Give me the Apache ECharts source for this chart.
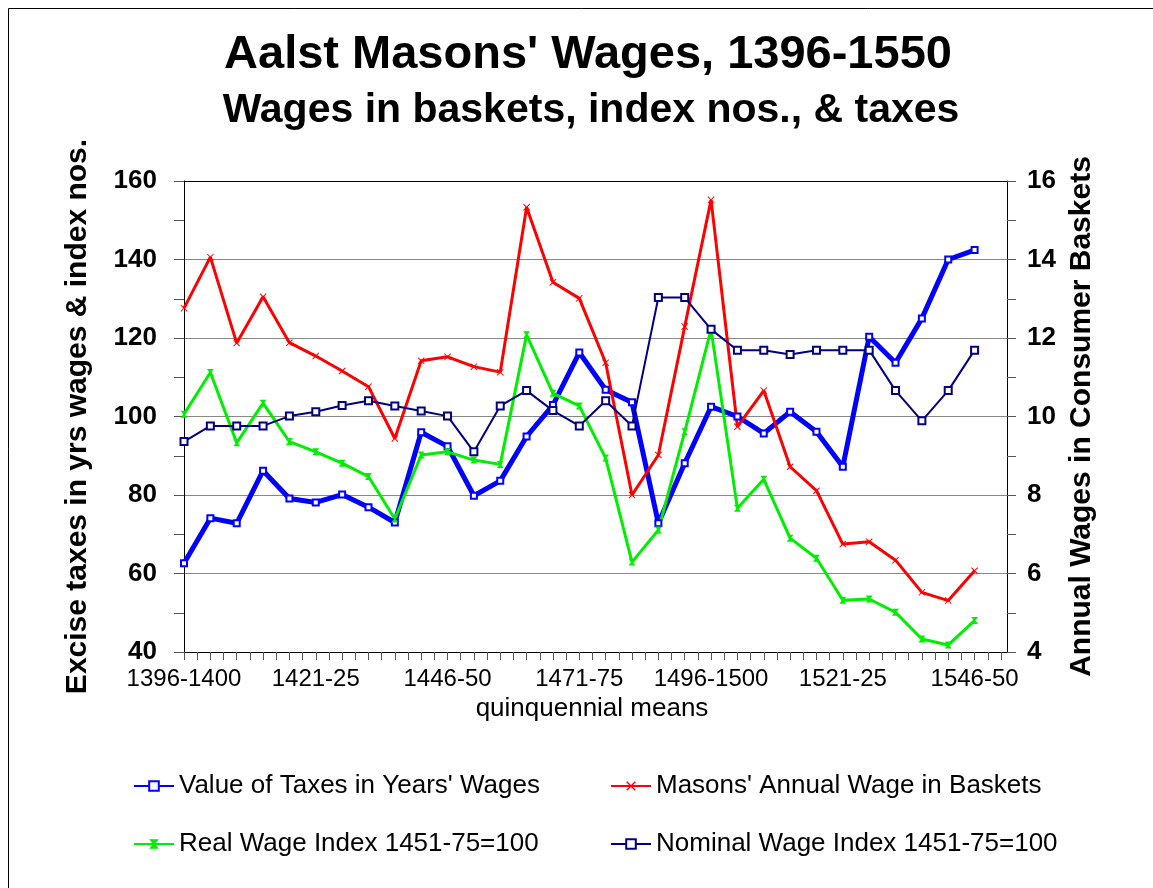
<!DOCTYPE html>
<html>
<head>
<meta charset="utf-8">
<title>Aalst Masons' Wages</title>
<script src="https://cdn.jsdelivr.net/npm/echarts@6/dist/echarts.min.js"></script>
<style>
  html, body { margin: 0; padding: 0; background: #fff; }
  #main { width: 1153px; height: 888px; }
</style>
</head>
<body>
<div id="main"></div>
<script>
// quinquennial periods
var categories = ['1396-1400', '1401-05', '1406-10', '1411-15', '1416-20', '1421-25', '1426-30', '1431-35',
  '1436-40', '1441-45', '1446-50', '1451-55', '1456-60', '1461-65', '1466-70', '1471-75', '1476-80',
  '1481-85', '1486-90', '1491-95', '1496-1500', '1501-05', '1506-10', '1511-15', '1516-20', '1521-25',
  '1526-30', '1531-35', '1536-40', '1541-45', '1546-50'];

// left axis
var taxValues = [62.6, 74.1, 72.8, 86.2, 79.1, 78.1, 80.1, 76.9, 73.0, 96.0, 92.4, 79.8, 83.6, 94.9, 102.9,
  116.3, 106.8, 103.6, 72.8, 88.1, 102.5, 100.0, 95.7, 101.2, 96.1, 87.2, 120.3, 113.7, 125.0, 140.0, 142.4];
var realWage = [100.6, 111.2, 93.3, 103.4, 93.6, 91.0, 88.1, 84.7, 73.9, 90.2, 91.0, 88.9, 87.8, 120.8, 105.9,
  102.7, 89.4, 62.9, 71.1, 96.1, 122.2, 76.6, 84.0, 69.0, 63.9, 53.2, 53.5, 50.1, 43.3, 41.8, 48.0];
var nominalWage = [93.6, 97.6, 97.6, 97.6, 100.1, 101.2, 102.8, 104.0, 102.7, 101.4, 100.1, 91.0, 102.7, 106.6,
  101.5, 97.6, 104.0, 97.6, 130.3, 130.3, 122.2, 116.9, 116.9, 115.8, 116.9, 116.9, 116.9, 106.6, 98.9, 106.6, 116.9];
// right axis
var basketWage = [12.76, 14.06, 11.87, 13.05, 11.88, 11.54, 11.16, 10.76, 9.44, 11.42, 11.52, 11.27, 11.13,
  15.33, 13.42, 13.01, 11.37, 8.0, 9.02, 12.29, 15.52, 9.74, 10.66, 8.72, 8.11, 6.75, 6.81, 6.34, 5.52, 5.31, 6.07];

var labelEvery = 5;

function pairs(arr) {
  return arr.map(function (v, i) { return [i, v]; });
}

var tickVals = [];
for (var t = 0; t <= categories.length; t += 0.5) tickVals.push(t);
var labelVals = [];
for (var l = 0; l < categories.length; l += labelEvery) labelVals.push(l);

var font = 'Liberation Sans, Arial, sans-serif';
var xMark = 'path://M0,1L1,0L5,4L9,0L10,1L6,5L10,9L9,10L5,6L1,10L0,9L4,5Z';
var hourglass = 'path://M0,0L10,0L6,5L10,10L0,10L4,5Z';

var chart = echarts.init(document.getElementById('main'));

var option = {
  backgroundColor: '#fff',
  animation: false,
  textStyle: { fontFamily: font },
  title: [
    { text: "Aalst Masons' Wages, 1396-1550", left: 583, top: 27, textAlign: 'center',
      textStyle: { fontSize: 47, fontWeight: 'bold', color: '#000', fontFamily: font } },
    { text: 'Wages in baskets, index nos., & taxes', left: 586, top: 85, textAlign: 'center',
      textStyle: { fontSize: 41, fontWeight: 'bold', color: '#000', fontFamily: font } }
  ],
  graphic: [{
    type: 'rect', shape: { x: 8.5, y: 8.5, width: 1160, height: 900 },
    style: { fill: null, stroke: '#000', lineWidth: 1 }, silent: true
  }],
  legend: [
    { data: ["Value of Taxes in Years' Wages", 'Real Wage Index 1451-75=100'],
      orient: 'vertical', left: 128, top: 768, itemWidth: 40, itemHeight: 12, itemGap: 32,
      textStyle: { fontSize: 26, color: '#000', fontFamily: font } },
    { data: ["Masons' Annual Wage in Baskets", 'Nominal Wage Index 1451-75=100'],
      orient: 'vertical', left: 605, top: 768, itemWidth: 40, itemHeight: 12, itemGap: 32,
      textStyle: { fontSize: 26, color: '#000', fontFamily: font } }
  ],
  grid: { left: 177, right: 146, top: 181, bottom: 236, containLabel: false },
  xAxis: {
    type: 'value',
    min: -0.266,
    max: 31.23,
    name: 'quinquennial means',
    nameLocation: 'middle',
    nameGap: 43,
    nameTextStyle: { fontSize: 26, color: '#000', fontFamily: font },
    axisLine: { show: true, onZero: false, lineStyle: { color: '#000', width: 1 } },
    axisTick: { show: true, customValues: tickVals, length: 8, lineStyle: { color: '#555' } },
    axisLabel: {
      customValues: labelVals, margin: 15, fontSize: 24, color: '#000', fontFamily: font,
      formatter: function (v) { return categories[Math.round(v)] || ''; }
    },
    splitLine: { show: false }
  },
  yAxis: [
    {
      type: 'value', min: 40, max: 160, interval: 20, position: 'left',
      name: 'Excise taxes in yrs wages & index nos.',
      nameLocation: 'middle', nameRotate: 90, nameGap: 84,
      nameTextStyle: { fontSize: 30, fontWeight: 'bold', color: '#000', fontFamily: font },
      axisLine: { show: true, lineStyle: { color: '#000' } },
      axisTick: { show: true, length: 10, lineStyle: { color: '#555' } },
      minorTick: { show: true, splitNumber: 2, length: 10, lineStyle: { color: '#555' } },
      axisLabel: { margin: 20, fontSize: 26, fontWeight: 'bold', color: '#000', fontFamily: font },
      splitLine: { show: true, lineStyle: { color: ['#888', '#888', '#888', '#888', '#888', '#888', '#000'], width: 1 } },
      minorSplitLine: { show: false }
    },
    {
      type: 'value', min: 4, max: 16, interval: 2, position: 'right',
      name: 'Annual Wages in Consumer Baskets',
      nameLocation: 'middle', nameRotate: 90, nameGap: 62,
      nameTextStyle: { fontSize: 30, fontWeight: 'bold', color: '#000', fontFamily: font, verticalAlign: 'bottom' },
      axisLine: { show: true, lineStyle: { color: '#000' } },
      axisTick: { show: true, length: 9, lineStyle: { color: '#555' } },
      minorTick: { show: true, splitNumber: 2, length: 9, lineStyle: { color: '#555' } },
      axisLabel: { margin: 20, fontSize: 26, fontWeight: 'bold', color: '#000', fontFamily: font },
      splitLine: { show: false }
    }
  ],
  series: [
    {
      name: "Value of Taxes in Years' Wages", type: 'line', yAxisIndex: 0,
      data: pairs(taxValues),
      symbol: 'emptyRect', symbolSize: 6,
      lineStyle: { color: '#0000ff', width: 5 },
      itemStyle: { color: '#0000ff', borderColor: '#0000ff', borderWidth: 1.5 }
    },
    {
      name: "Masons' Annual Wage in Baskets", type: 'line', yAxisIndex: 1,
      data: pairs(basketWage),
      symbol: xMark, symbolSize: 7,
      lineStyle: { color: '#ff0000', width: 3 },
      itemStyle: { color: '#ff0000' }
    },
    {
      name: 'Real Wage Index 1451-75=100', type: 'line', yAxisIndex: 0,
      data: pairs(realWage),
      symbol: hourglass, symbolSize: 7,
      lineStyle: { color: '#00ee00', width: 3 },
      itemStyle: { color: '#00ee00' }
    },
    {
      name: 'Nominal Wage Index 1451-75=100', type: 'line', yAxisIndex: 0,
      data: pairs(nominalWage),
      symbol: 'emptyRect', symbolSize: 7,
      lineStyle: { color: '#000080', width: 2 },
      itemStyle: { color: '#000080', borderColor: '#000080', borderWidth: 1.5 }
    }
  ]
};

chart.setOption(option);
</script>
</body>
</html>
